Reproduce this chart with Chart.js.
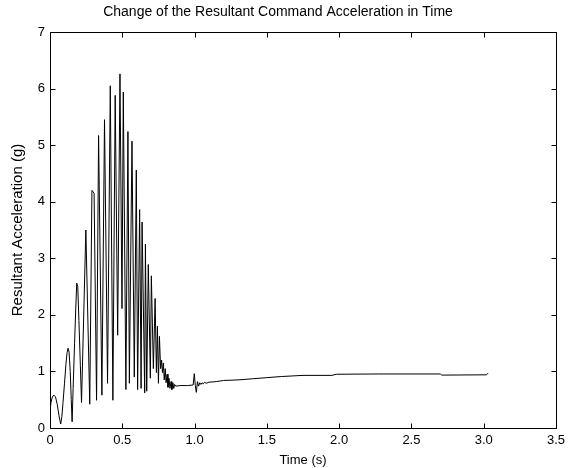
<!DOCTYPE html>
<html>
<head>
<meta charset="utf-8">
<script src="https://cdn.jsdelivr.net/npm/chart.js@4/dist/chart.umd.min.js"></script>
<style>
  html, body { margin: 0; padding: 0; background: #fff; }
  #wrap { width: 571px; height: 468px; }
</style>
</head>
<body>
<div id="wrap"><canvas id="c" width="571" height="468"></canvas></div>
<script>
// time (s) and resultant acceleration (g)
const time = [0, 0.007, 0.014, 0.021, 0.028, 0.038, 0.05, 0.062, 0.074, 0.082, 0.09, 0.1, 0.11, 0.118, 0.125,
  0.132, 0.14, 0.147, 0.153, 0.16, 0.17, 0.178, 0.185, 0.192, 0.2, 0.21, 0.218, 0.248, 0.275, 0.29, 0.305, 0.322,
  0.336, 0.359, 0.377, 0.398, 0.417, 0.435, 0.451, 0.468, 0.484, 0.498, 0.507, 0.525, 0.539, 0.549, 0.567,
  0.583, 0.597, 0.606, 0.62, 0.63, 0.637, 0.655, 0.66, 0.669, 0.68, 0.694, 0.701, 0.715, 0.727, 0.736, 0.743,
  0.75, 0.757, 0.765, 0.772, 0.778, 0.784, 0.79, 0.797, 0.803, 0.81, 0.816, 0.823, 0.83, 0.837, 0.843, 0.85,
  0.856, 0.862, 0.87, 0.9, 0.95, 0.99, 0.998, 1.005, 1.012, 1.02, 1.028, 1.036, 1.044, 1.052, 1.06, 1.07,
  1.08, 1.1, 1.15, 1.2, 1.3, 1.4, 1.5, 1.6, 1.75, 1.95, 1.98, 2.27, 2.7, 2.71, 3.02, 3.03];
const accel = [0.32, 0.45, 0.53, 0.57, 0.58, 0.55, 0.42, 0.22, 0.07, 0.2, 0.45, 0.78, 1.12, 1.33, 1.41,
  1.34, 1.0, 0.5, 0.11, 0.7, 1.5, 2.1, 2.56, 2.5, 1.9, 1.1, 0.45, 3.5, 0.42, 4.2, 4.15, 0.49,
  5.17, 0.58, 5.45, 0.79, 6.05, 0.49, 5.88, 1.64, 6.26, 2.11, 5.94, 0.68, 5.24, 0.79, 5.07,
  0.9, 4.56, 0.68, 3.86, 0.7, 3.64, 0.62, 3.25, 0.65, 2.89, 0.88, 2.69, 1.05, 2.29, 0.98, 1.8,
  0.79, 1.62, 1.05, 1.2, 0.98, 1.15, 0.85, 1.05, 0.8, 0.95, 0.72, 0.88, 0.7, 0.82, 0.68, 0.8,
  0.7, 0.77, 0.74, 0.75, 0.75, 0.76, 0.96, 0.75, 0.63, 0.82, 0.74, 0.8, 0.77, 0.8, 0.78, 0.81,
  0.79, 0.81, 0.82, 0.84, 0.85, 0.87, 0.89, 0.91, 0.93, 0.93, 0.95, 0.955, 0.955, 0.935, 0.94, 0.97];

const xTicks = [0, 0.5, 1, 1.5, 2, 2.5, 3, 3.5];
const yTicks = [0, 1, 2, 3, 4, 5, 6, 7];

const family = "'Liberation Sans', Arial, sans-serif";

// MATLAB-style box with inward ticks on all four sides
const boxTicks = {
  id: "boxTicks",
  afterDatasetsDraw(chart) {
    const ctx = chart.ctx;
    const a = chart.chartArea;
    const sx = chart.scales.x, sy = chart.scales.y;
    const L = Math.round(a.left) + 0.5, R = Math.round(a.right) + 0.5;
    const T = Math.round(a.top) + 0.5, B = Math.round(a.bottom) + 0.5;
    ctx.save();
    ctx.strokeStyle = "#000";
    ctx.lineWidth = 1;
    ctx.beginPath();
    ctx.moveTo(L, T); ctx.lineTo(R, T); ctx.lineTo(R, B); ctx.lineTo(L, B); ctx.closePath();
    for (const v of xTicks) {
      const px = Math.round(sx.getPixelForValue(v)) + 0.5;
      ctx.moveTo(px, B); ctx.lineTo(px, B - 5);
      ctx.moveTo(px, T); ctx.lineTo(px, T + 5);
    }
    for (const v of yTicks) {
      const py = Math.round(sy.getPixelForValue(v)) + 0.5;
      ctx.moveTo(L, py); ctx.lineTo(L + 5, py);
      ctx.moveTo(R, py); ctx.lineTo(R - 5, py);
    }
    ctx.stroke();
    ctx.restore();
  }
};

new Chart(document.getElementById("c"), {
  type: "line",
  data: {
    datasets: [{
      data: time.map((t, i) => ({ x: t, y: accel[i] })),
      borderColor: "#000",
      borderWidth: 1,
      pointRadius: 0,
      tension: 0,
      fill: false
    }]
  },
  options: {
    responsive: false,
    animation: false,
    layout: { padding: { left: 0, right: 15, top: 0, bottom: 0 } },
    plugins: {
      legend: { display: false },
      tooltip: { enabled: false },
      title: {
        display: true,
        text: "Change of the Resultant Command Acceleration in Time",
        color: "#000",
        font: { family, size: 14, weight: "normal" },
        padding: { top: 3.6, bottom: 11.6 }
      }
    },
    scales: {
      x: {
        type: "linear",
        min: 0, max: 3.5,
        afterBuildTicks: s => { s.ticks = xTicks.map(v => ({ value: v })); },
        afterFit: s => { s.height = 40; },
        grid: { display: false, drawTicks: false },
        border: { display: false },
        ticks: { color: "#000", font: { family, size: 13 }, padding: 5, maxRotation: 0 },
        title: { display: true, text: "Time (s)", color: "#000", font: { family, size: 13 }, padding: { top: 0, bottom: 0 } }
      },
      y: {
        min: 0, max: 7,
        afterBuildTicks: s => { s.ticks = yTicks.map(v => ({ value: v })); },
        afterFit: s => { s.width = 50; },
        grid: { display: false, drawTicks: false },
        border: { display: false },
        ticks: { color: "#000", font: { family, size: 13 }, padding: 5 },
        title: { display: true, text: "Resultant Acceleration (g)", color: "#000", font: { family, size: 15 }, padding: { top: 9, bottom: 0 } }
      }
    }
  },
  plugins: [boxTicks]
});
</script>
</body>
</html>
